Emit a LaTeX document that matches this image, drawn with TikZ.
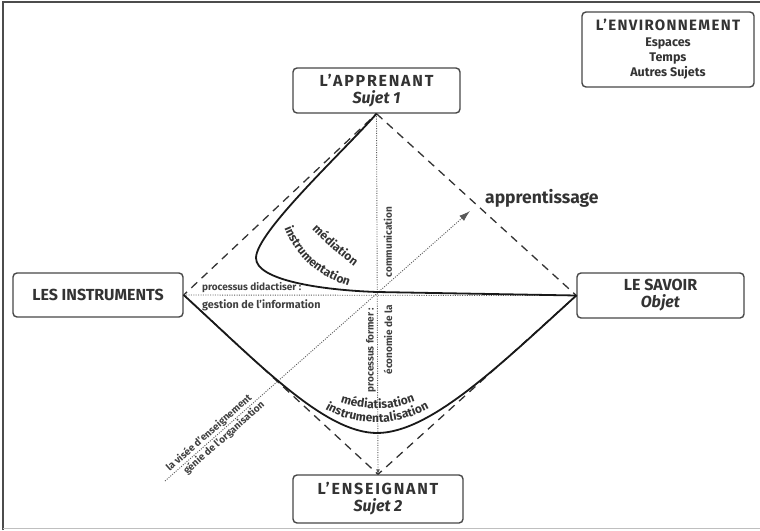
\documentclass[tikz,border=0pt]{standalone}
\usepackage{fontspec}
\setmainfont{Fira Sans}
\usetikzlibrary{arrows.meta,decorations.text}
\newcommand\crvfont{\fontsize{12}{12}\selectfont\bfseries}
\newcommand\widecaps{\addfontfeature{LetterSpace=11}}
\begin{document}
\begin{tikzpicture}[x=1pt,y=-1pt,
 box/.style={draw=black!72,line width=1.4pt,rounded corners=4pt,fill=white,align=center,inner sep=0pt,font=\fontsize{16}{17}\selectfont\bfseries,text=black!80},
 dia/.style={line width=1.3pt,dash pattern=on 8pt off 6pt,black!80},
 dotl/.style={line width=0.9pt,dash pattern=on 1pt off 1.4pt,black!65},
 crv/.style={line width=1.8pt,black!90},
 lbl/.style={font=\fontsize{10}{10}\selectfont\bfseries,text=black!75,inner sep=0pt},
 alongtxt/.style={decorate,decoration={text along path,text align=center,text color=black!80,text={#1}}},
]
\useasboundingbox (0,0) rectangle (760,530);
\draw[black!70,line width=1.5pt] (3,530) -- (3,2) -- (760,2);
\draw[black!25,line width=1pt] (3,528) -- (760,528);

\node[box,minimum width=167pt,minimum height=45pt] (app) at (376.5,90.5) {{\widecaps L'APPRENANT}\\\textit{Sujet 1}};
\node[box,minimum width=170pt,minimum height=44pt] (ins) at (98,295) {LES INSTRUMENTS};
\node[box,minimum width=167pt,minimum height=45pt] (sav) at (660.5,295.5) {LE SAVOIR\\\textit{Objet}};
\node[box,minimum width=170pt,minimum height=48pt] (ens) at (378,499) {{\widecaps L'ENSEIGNANT}\\\textit{Sujet 2}};
\node[box,minimum width=172pt,minimum height=75pt,font=\fontsize{12.5}{15}\selectfont\bfseries] (env) at (668,49.5)
  {{\fontsize{15}{15}\selectfont\addfontfeature{LetterSpace=9}L'ENVIRONNEMENT}\\[1pt]Espaces\\Temps\\Autres Sujets};

% diamond
\draw[dia] (app.south) -- (sav.west) -- (ens.north) -- (ins.east) -- cycle;
% dotted axes
\draw[dotl] (ins.east) -- (sav.west);
\draw[dotl,-{Latex[length=5pt,width=4pt]}] (app.south) -- (ens.north);
\coordinate (d0) at (165,481);
\coordinate (d1) at (470,211);
\draw[dotl,-{Latex[length=11pt,width=7pt]}] (d0) -- (d1);

% solid curves
\draw[crv] (app.south) .. controls (345,150) and (256,232) .. (256,258)
   .. controls (256,280) and (320,290) .. (377,292) -- (sav.west);
\draw[crv] (ins.east) .. controls (260,365) and (325,433) .. (377,433)
   .. controls (430,433) and (500,365) .. (sav.west);

% curve texts
\path[alongtxt={|\crvfont|médiation}] (300,218) .. controls (320,238) and (340,258) .. (368,276);
\path[alongtxt={|\crvfont|instrumentation}] (280,215) .. controls (290,251) and (313,278) .. (362,290);
\path[alongtxt={|\crvfont|médiatisation}] (315,387) .. controls (345,416) and (410,416) .. (440,385);
\path[alongtxt={|\crvfont|instrumentalisation}] (305,393) .. controls (340,432) and (410,432) .. (450,393);

% labels
\node[font=\fontsize{17.5}{17.5}\selectfont\bfseries,text=black!80,anchor=west,inner sep=0pt] (appr) at (485,198) {apprentissage};
\node[lbl,anchor=west] (pd) at (202,288) {processus didactiser :};
\node[lbl,anchor=west,font=\fontsize{10.8}{10.8}\selectfont\bfseries] (gi) at (202,305) {gestion de l'information};
\node[lbl,rotate=90] (pf) at (371,350) {processus former :};
\node[lbl,rotate=90] (eco) at (388,340) {économie de la};
\node[lbl,rotate=90] (com) at (388,242) {communication};
\node[lbl,rotate=41.5] (vis) at (209,433) {la visée d'enseignement};
\node[lbl,rotate=41.5] (gen) at (224,438) {génie de l'organisation};
\end{tikzpicture}
\end{document}
